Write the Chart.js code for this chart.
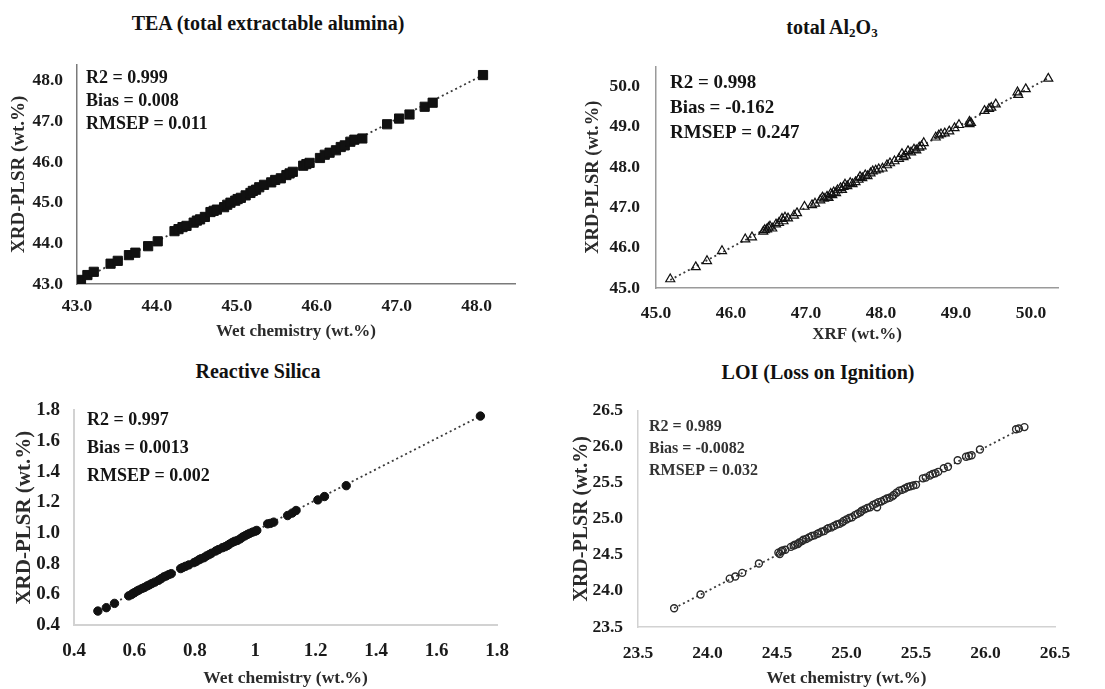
<!DOCTYPE html>
<html>
<head>
<meta charset="utf-8">
<script src="https://cdn.jsdelivr.net/npm/chart.js@4.4.0/dist/chart.umd.min.js"></script>
<style>
  body { margin: 0; background: #fff; }
  #page { position: relative; width: 1105px; height: 689px; overflow: hidden; background: #fff; }
  canvas { position: absolute; }
  .ptitle {
    position: absolute;
    font-family: "Liberation Serif", "Times New Roman", serif;
    font-weight: bold;
    color: #111;
    white-space: nowrap;
    line-height: 1.2;
    transform: translateX(-50%);
  }
  .ptitle sub { font-size: 65%; vertical-align: -0.25em; line-height: 0; }
</style>
</head>
<body>
<div id="page">
  <div class="ptitle" style="left:268px; top:11px; font-size:20px;">TEA (total extractable alumina)</div>
  <div class="ptitle" style="left:832px; top:15px; font-size:20px;">total Al<sub>2</sub>O<sub>3</sub></div>
  <div class="ptitle" style="left:258px; top:359px; font-size:20px;">Reactive Silica</div>
  <div class="ptitle" style="left:818px; top:360px; font-size:20px;">LOI (Loss on Ignition)</div>

  <canvas id="teaChart" width="550" height="310" style="left:0; top:40px;"></canvas>
  <canvas id="aluminaChart" width="555" height="310" style="left:550px; top:40px;"></canvas>
  <canvas id="silicaChart" width="550" height="304" style="left:0; top:385px;"></canvas>
  <canvas id="loiChart" width="555" height="304" style="left:550px; top:385px;"></canvas>
</div>
<script>
// TEA (total extractable alumina)
const teaX = [43.05, 43.13, 43.21, 43.42, 43.51, 43.65, 43.73, 43.89, 44.01, 44.22, 44.27, 44.32, 44.37, 44.46,
  44.50, 44.54, 44.60, 44.67, 44.71, 44.75, 44.84, 44.88, 44.92, 44.98, 45.01, 45.05, 45.11, 45.17, 45.20, 45.24,
  45.28, 45.34, 45.43, 45.48, 45.55, 45.62, 45.66, 45.70, 45.83, 45.87, 45.91, 46.04, 46.10, 46.16, 46.24, 46.30,
  46.35, 46.42, 46.47, 46.57, 46.88, 47.03, 47.16, 47.35, 47.45, 48.08];
const teaY = [43.10, 43.22, 43.30, 43.50, 43.57, 43.71, 43.77, 43.93, 44.05, 44.30, 44.35, 44.40, 44.43, 44.51,
  44.56, 44.59, 44.65, 44.77, 44.80, 44.83, 44.89, 44.95, 45.00, 45.05, 45.09, 45.12, 45.18, 45.24, 45.29, 45.32,
  45.38, 45.44, 45.50, 45.56, 45.60, 45.68, 45.72, 45.76, 45.91, 45.95, 45.98, 46.10, 46.18, 46.23, 46.29, 46.37,
  46.41, 46.50, 46.55, 46.58, 46.93, 47.07, 47.17, 47.36, 47.46, 48.14];
const teaTrendX = [43.05, 48.08];
const teaTrendY = [43.10, 48.14];
const teaTicks = [43, 44, 45, 46, 47, 48];
const teaTickLabels = ['43.0', '44.0', '45.0', '46.0', '47.0', '48.0'];
const teaStats = ['R2 = 0.999', 'Bias = 0.008', 'RMSEP = 0.011'];

// total Al2O3
const aluminaX = [45.19, 45.53, 45.68, 45.88, 46.19, 46.28, 46.43, 46.45, 46.48, 46.50, 46.52, 46.55, 46.60, 46.64,
  46.68, 46.70, 46.72, 46.76, 46.84, 46.88, 46.98, 47.08, 47.12, 47.19, 47.22, 47.24, 47.28, 47.30, 47.33, 47.35,
  47.37, 47.40, 47.42, 47.46, 47.48, 47.50, 47.52, 47.55, 47.59, 47.62, 47.66, 47.70, 47.72, 47.75, 47.79, 47.82,
  47.86, 47.89, 47.93, 47.97, 48.02, 48.08, 48.12, 48.18, 48.24, 48.28, 48.30, 48.33, 48.36, 48.40, 48.44, 48.47,
  48.51, 48.54, 48.57, 48.73, 48.77, 48.80, 48.85, 48.91, 48.98, 49.04, 49.18, 49.18, 49.20, 49.38, 49.44, 49.47,
  49.53, 49.82, 49.83, 49.93, 50.23];
const aluminaY = [45.22, 45.52, 45.67, 45.92, 46.21, 46.26, 46.40, 46.44, 46.46, 46.50, 46.53, 46.48, 46.58, 46.62,
  46.72, 46.66, 46.75, 46.73, 46.80, 46.86, 47.02, 47.06, 47.10, 47.18, 47.25, 47.22, 47.27, 47.24, 47.34, 47.31,
  47.38, 47.36, 47.43, 47.48, 47.44, 47.51, 47.57, 47.53, 47.61, 47.58, 47.63, 47.69, 47.76, 47.73, 47.80, 47.78,
  47.85, 47.90, 47.92, 47.95, 47.97, 48.05, 48.10, 48.15, 48.21, 48.33, 48.25, 48.29, 48.40, 48.37, 48.44, 48.42,
  48.49, 48.52, 48.60, 48.74, 48.79, 48.82, 48.84, 48.89, 48.97, 49.05, 49.13, 49.07, 49.10, 49.40, 49.45, 49.48,
  49.56, 49.86, 49.80, 49.94, 50.20];
const aluminaTrendX = [45.19, 50.23];
const aluminaTrendY = [45.20, 50.21];
const aluminaTicks = [45, 46, 47, 48, 49, 50];
const aluminaTickLabels = ['45.0', '46.0', '47.0', '48.0', '49.0', '50.0'];
const aluminaStats = ['R2 = 0.998', 'Bias = -0.162', 'RMSEP = 0.247'];

// Reactive Silica
const silicaX = [0.479, 0.507, 0.534, 0.581, 0.590, 0.595, 0.600, 0.608, 0.615, 0.625, 0.633, 0.642, 0.650, 0.658,
  0.668, 0.680, 0.688, 0.697, 0.705, 0.714, 0.722, 0.753, 0.760, 0.769, 0.780, 0.797, 0.805, 0.814, 0.820, 0.830,
  0.838, 0.847, 0.855, 0.869, 0.878, 0.891, 0.900, 0.908, 0.915, 0.924, 0.932, 0.941, 0.950, 0.958, 0.966, 0.974,
  0.982, 0.991, 1.000, 1.005, 1.041, 1.050, 1.061, 1.107, 1.122, 1.135, 1.207, 1.229, 1.301, 1.745];
const silicaY = [0.491, 0.513, 0.541, 0.590, 0.598, 0.606, 0.611, 0.621, 0.628, 0.638, 0.645, 0.655, 0.662, 0.671,
  0.680, 0.692, 0.702, 0.714, 0.720, 0.729, 0.735, 0.768, 0.775, 0.783, 0.792, 0.807, 0.815, 0.826, 0.832, 0.839,
  0.850, 0.859, 0.868, 0.883, 0.892, 0.904, 0.911, 0.919, 0.928, 0.939, 0.946, 0.952, 0.962, 0.974, 0.982, 0.991,
  0.998, 1.006, 1.012, 1.017, 1.060, 1.063, 1.071, 1.114, 1.130, 1.147, 1.216, 1.238, 1.309, 1.763];
const silicaTrendX = [0.479, 1.745];
const silicaTrendY = [0.490, 1.763];
const silicaTicks = [0.4, 0.6, 0.8, 1.0, 1.2, 1.4, 1.6, 1.8];
const silicaXTickLabels = ['0.4', '0.6', '0.8', '1', '1.2', '1.4', '1.6', '1.8'];
const silicaYTickLabels = ['0.4', '0.6', '0.8', '1.0', '1.2', '1.4', '1.6', '1.8'];
const silicaStats = ['R2 = 0.997', 'Bias = 0.0013', 'RMSEP = 0.002'];

// LOI (Loss on Ignition)
const loiX = [23.76, 23.95, 24.16, 24.20, 24.25, 24.37, 24.51, 24.52, 24.53, 24.54, 24.56, 24.60, 24.62, 24.63,
  24.65, 24.66, 24.68, 24.69, 24.71, 24.73, 24.75, 24.77, 24.79, 24.80, 24.82, 24.84, 24.86, 24.87, 24.89, 24.91,
  24.93, 24.95, 24.97, 24.98, 25.00, 25.02, 25.04, 25.06, 25.08, 25.10, 25.11, 25.13, 25.15, 25.17, 25.19, 25.21,
  25.22, 25.23, 25.25, 25.27, 25.29, 25.31, 25.33, 25.34, 25.36, 25.38, 25.40, 25.42, 25.44, 25.46, 25.48, 25.50,
  25.55, 25.57, 25.60, 25.62, 25.64, 25.66, 25.70, 25.73, 25.80, 25.86, 25.88, 25.90, 25.96, 26.22, 26.24, 26.28];
const loiY = [23.76, 23.95, 24.17, 24.20, 24.25, 24.38, 24.53, 24.51, 24.55, 24.56, 24.57, 24.61, 24.63, 24.64,
  24.65, 24.67, 24.69, 24.71, 24.72, 24.74, 24.76, 24.77, 24.79, 24.80, 24.82, 24.83, 24.86, 24.87, 24.88, 24.90,
  24.92, 24.93, 24.95, 24.97, 24.99, 25.01, 25.02, 25.05, 25.07, 25.09, 25.11, 25.13, 25.15, 25.16, 25.19, 25.21,
  25.16, 25.23, 25.24, 25.26, 25.28, 25.29, 25.31, 25.33, 25.36, 25.39, 25.40, 25.42, 25.44, 25.45, 25.46, 25.47,
  25.56, 25.57, 25.60, 25.62, 25.63, 25.65, 25.70, 25.72, 25.81, 25.86, 25.87, 25.88, 25.96, 26.24, 26.25, 26.27];
const loiTrendX = [23.76, 26.28];
const loiTrendY = [23.76, 26.27];
const loiTicks = [23.5, 24.0, 24.5, 25.0, 25.5, 26.0, 26.5];
const loiTickLabels = ['23.5', '24.0', '24.5', '25.0', '25.5', '26.0', '26.5'];
const loiStats = ['R2 = 0.989', 'Bias = -0.0082', 'RMSEP = 0.032'];

const serif = '"Liberation Serif", "Times New Roman", serif';

function toPoints(xs, ys) {
  return xs.map((x, i) => ({ x: x, y: ys[i] }));
}

// writes the R2 / Bias / RMSEP block in the top-left of the plot area
const statsTextPlugin = {
  id: 'statsText',
  afterDatasetsDraw(chart, args, opts) {
    if (!opts.lines) return;
    const ctx = chart.ctx;
    const area = chart.chartArea;
    ctx.save();
    ctx.font = 'bold ' + opts.size + 'px ' + serif;
    ctx.fillStyle = opts.color;
    ctx.textBaseline = 'middle';
    ctx.textAlign = 'left';
    opts.lines.forEach(function (t, i) {
      ctx.fillText(t, area.left + opts.dx, area.top + opts.dy + i * opts.gap);
    });
    ctx.restore();
  }
};

function makeChart(id, c) {
  const ctx = document.getElementById(id).getContext('2d');
  return new Chart(ctx, {
    type: 'scatter',
    data: {
      datasets: [
        {
          data: toPoints(c.x, c.y),
          pointStyle: c.pointStyle,
          pointRadius: c.radius,
          pointHoverRadius: c.radius,
          backgroundColor: c.fill,
          borderColor: c.stroke,
          borderWidth: c.strokeWidth,
        },
        {
          data: toPoints(c.trendX, c.trendY),
          showLine: true,
          pointRadius: 0,
          borderColor: '#3a3a3a',
          borderWidth: 1.8,
          borderDash: [2, 3],
          fill: false,
        },
      ],
    },
    options: {
      responsive: false,
      animation: false,
      events: [],
      layout: { padding: c.padding },
      plugins: {
        legend: { display: false },
        tooltip: { enabled: false },
        statsText: c.stats,
      },
      scales: {
        x: {
          type: 'linear',
          min: c.xMin,
          max: c.xMax,
          afterFit: function (s) { s.height = c.xHeight; },
          afterBuildTicks: function (s) { s.ticks = c.xTicks.map(v => ({ value: v })); },
          grid: { display: false, drawTicks: false },
          border: { display: true, color: c.axisColor, width: c.axisWidth },
          ticks: {
            autoSkip: false,
            maxRotation: 0,
            padding: c.xTickPad,
            color: '#1a1a1a',
            font: { family: serif, size: c.tickSize, weight: 'bold' },
            callback: function (v, i) { return c.xTickLabels[i]; },
          },
          title: {
            display: true,
            text: c.xTitle,
            color: '#2b2b2b',
            padding: { top: 0, bottom: c.xTitlePad },
            font: { family: serif, size: c.xTitleSize, weight: 'bold' },
          },
        },
        y: {
          type: 'linear',
          min: c.yMin,
          max: c.yMax,
          afterFit: function (s) { s.width = c.yWidth; },
          afterBuildTicks: function (s) { s.ticks = c.yTicks.map(v => ({ value: v })); },
          grid: { display: false, drawTicks: false },
          border: { display: true, color: c.axisColor, width: c.axisWidth },
          ticks: {
            autoSkip: false,
            padding: c.yTickPad,
            color: '#1a1a1a',
            font: { family: serif, size: c.tickSize, weight: 'bold' },
            callback: function (v, i) { return c.yTickLabels[i]; },
          },
          title: {
            display: true,
            text: 'XRD-PLSR (wt.%)',
            color: '#2b2b2b',
            padding: { top: c.yTitlePad, bottom: 0 },
            font: { family: serif, size: c.yTitleSize, weight: 'bold' },
          },
        },
      },
    },
    plugins: [statsTextPlugin],
  });
}

makeChart('teaChart', {
  x: teaX, y: teaY, trendX: teaTrendX, trendY: teaTrendY,
  pointStyle: 'rect', radius: 6.5, fill: '#111', stroke: '#111', strokeWidth: 1,
  xMin: 43, xMax: 48.48, yMin: 43, yMax: 48.4,
  xTicks: teaTicks, xTickLabels: teaTickLabels, yTicks: teaTicks, yTickLabels: teaTickLabels,
  padding: { top: 18, right: 35, left: 0, bottom: 0 },
  xHeight: 66, yWidth: 77, xTickPad: 12, yTickPad: 14,
  tickSize: 17.5, xTitle: 'Wet chemistry (wt.%)', xTitleSize: 17, xTitlePad: 8, yTitleSize: 19, yTitlePad: 8,
  axisColor: '#7a7a7a', axisWidth: 1.5,
  stats: { lines: teaStats, size: 18, color: '#141414', dx: 9, dy: 14, gap: 23 },
});

makeChart('aluminaChart', {
  x: aluminaX, y: aluminaY, trendX: aluminaTrendX, trendY: aluminaTrendY,
  pointStyle: 'triangle', radius: 5.2, fill: 'rgba(0,0,0,0)', stroke: '#111', strokeWidth: 1.2,
  xMin: 45, xMax: 50.36, yMin: 45, yMax: 50.5,
  xTicks: aluminaTicks, xTickLabels: aluminaTickLabels, yTicks: aluminaTicks, yTickLabels: aluminaTickLabels,
  padding: { top: 19, right: 47, left: 0, bottom: 0 },
  xHeight: 62, yWidth: 106, xTickPad: 15, yTickPad: 16,
  tickSize: 17.5, xTitle: 'XRF (wt.%)', xTitleSize: 17, xTitlePad: 5, yTitleSize: 18.5, yTitlePad: 32,
  axisColor: '#9a9a9a', axisWidth: 1.5,
  stats: { lines: aluminaStats, size: 19, color: '#141414', dx: 14, dy: 17, gap: 25 },
});

makeChart('silicaChart', {
  x: silicaX, y: silicaY, trendX: silicaTrendX, trendY: silicaTrendY,
  pointStyle: 'circle', radius: 4.2, fill: '#111', stroke: '#111', strokeWidth: 1,
  xMin: 0.4, xMax: 1.8, yMin: 0.4, yMax: 1.8,
  xTicks: silicaTicks, xTickLabels: silicaXTickLabels, yTicks: silicaTicks, yTickLabels: silicaYTickLabels,
  padding: { top: 23, right: 53, left: 0, bottom: 0 },
  xHeight: 64, yWidth: 74, xTickPad: 15, yTickPad: 14,
  tickSize: 19, xTitle: 'Wet chemistry (wt.%)', xTitleSize: 17.5, xTitlePad: 0, yTitleSize: 21, yTitlePad: 12,
  axisColor: '#d2d2d2', axisWidth: 2,
  stats: { lines: silicaStats, size: 18, color: '#141414', dx: 13, dy: 10, gap: 28 },
});

makeChart('loiChart', {
  x: loiX, y: loiY, trendX: loiTrendX, trendY: loiTrendY,
  pointStyle: 'circle', radius: 3.5, fill: 'rgba(0,0,0,0)', stroke: '#2a2a2a', strokeWidth: 1.4,
  xMin: 23.5, xMax: 26.5, yMin: 23.5, yMax: 26.5,
  xTicks: loiTicks, xTickLabels: loiTickLabels, yTicks: loiTicks, yTickLabels: loiTickLabels,
  padding: { top: 12, right: 50, left: 0, bottom: 0 },
  xHeight: 62, yWidth: 88, xTickPad: 16, yTickPad: 15,
  tickSize: 17.5, xTitle: 'Wet chemistry (wt.%)', xTitleSize: 17, xTitlePad: 0, yTitleSize: 20, yTitlePad: 20,
  axisColor: '#d2d2d2', axisWidth: 1.5,
  stats: { lines: loiStats, size: 16, color: '#333', dx: 11, dy: 16, gap: 22 },
});
</script>
</body>
</html>
